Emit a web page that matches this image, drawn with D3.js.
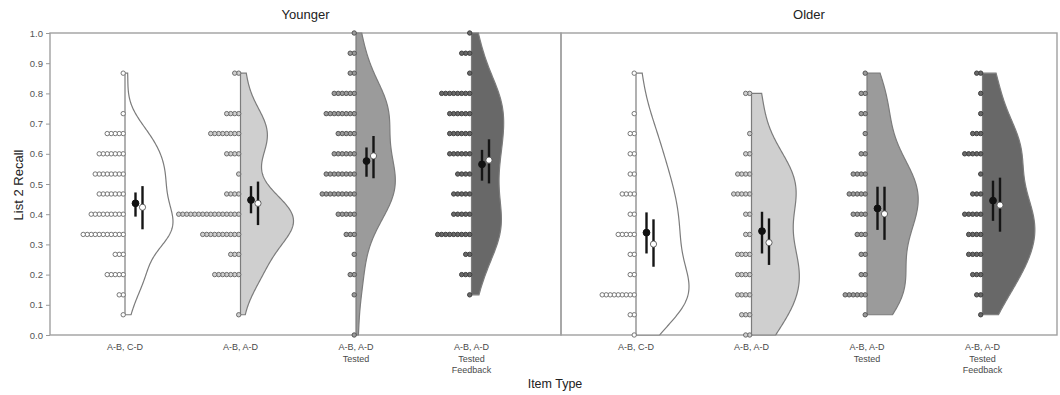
<!DOCTYPE html>
<html>
<head>
<meta charset="utf-8">
<script src="https://cdn.jsdelivr.net/npm/d3@7"></script>
<style>
  body { margin: 0; background: #fff; }
  text { font-family: "Liberation Sans", Arial, sans-serif; }
</style>
</head>
<body>
<div id="chart"></div>
<script>
// recall levels (proportion of 15 items)
const levels = [0, 0.067, 0.133, 0.2, 0.267, 0.333, 0.4, 0.467, 0.533, 0.6, 0.667, 0.733, 0.8, 0.867, 0.933, 1.0];

const itemTypes = ['A-B, C-D', 'A-B, A-D', 'A-B, A-D\nTested', 'A-B, A-D\nTested\nFeedback'];
const yTicks = [0, 0.1, 0.2, 0.3, 0.4, 0.5, 0.6, 0.7, 0.8, 0.9, 1.0];

// number of participants at each level, one array per item type
const youngerCounts = [
  [0, 1, 2, 5, 3, 11, 9, 7, 8, 7, 5, 1, 0, 1, 0, 0],
  [0, 1, 0, 7, 3, 10, 16, 4, 1, 4, 8, 4, 0, 2, 0, 0],
  [1, 0, 1, 2, 1, 3, 5, 9, 8, 6, 5, 8, 6, 2, 2, 1],
  [0, 0, 1, 3, 2, 9, 5, 5, 4, 6, 6, 6, 8, 1, 3, 1]
];
const olderCounts = [
  [1, 2, 9, 2, 2, 5, 2, 4, 2, 2, 2, 1, 0, 1, 0, 0],
  [2, 3, 4, 4, 4, 2, 2, 5, 4, 2, 1, 0, 2, 0, 0, 0],
  [0, 1, 6, 2, 2, 3, 4, 5, 4, 2, 1, 2, 2, 1, 0, 0],
  [0, 1, 2, 3, 4, 4, 5, 3, 1, 5, 3, 1, 1, 2, 0, 0]
];

// black points (observed means) with intervals
const youngerMean   = [0.436, 0.447, 0.576, 0.565];
const youngerMeanLo = [0.392, 0.403, 0.524, 0.511];
const youngerMeanHi = [0.472, 0.493, 0.621, 0.613];
const olderMean     = [0.339, 0.344, 0.419, 0.445];
const olderMeanLo   = [0.270, 0.270, 0.348, 0.378];
const olderMeanHi   = [0.406, 0.408, 0.491, 0.511];

// white points (model estimates) with intervals
const youngerEst   = [0.423, 0.436, 0.593, 0.579];
const youngerEstLo = [0.350, 0.364, 0.519, 0.502];
const youngerEstHi = [0.493, 0.508, 0.659, 0.648];
const olderEst     = [0.301, 0.306, 0.401, 0.430];
const olderEstLo   = [0.226, 0.232, 0.315, 0.342];
const olderEstHi   = [0.383, 0.386, 0.491, 0.521];

const fills = ['#ffffff', '#cfcfcf', '#9b9b9b', '#686868'];
const dotStrokes = ['#767676', '#6c6c6c', '#555555', '#404040'];

const width = 1060, height = 395;
const plotTop = 33, plotBottom = 335;

const svg = d3.select('#chart').append('svg')
  .attr('width', width)
  .attr('height', height);

const y = d3.scaleLinear().domain([0, 1]).range([plotBottom, plotTop]);

function expand(counts) {
  const vals = [];
  counts.forEach((c, i) => { for (let k = 0; k < c; k++) vals.push(levels[i]); });
  return vals;
}

// gaussian kde, bandwidth like R's bw.nrd0, trimmed to data range
function kde(vals) {
  const sorted = vals.slice().sort(d3.ascending);
  const sd = d3.deviation(sorted);
  const iqr = d3.quantileSorted(sorted, 0.75) - d3.quantileSorted(sorted, 0.25);
  const bw = 0.9 * Math.min(sd, iqr / 1.34) * Math.pow(sorted.length, -0.2);
  const lo = sorted[0], hi = sorted[sorted.length - 1];
  const pts = d3.range(256).map(i => lo + (hi - lo) * i / 255);
  return pts.map(v => {
    const d = d3.mean(sorted, s => Math.exp(-0.5 * ((v - s) / bw) ** 2)) / (bw * Math.sqrt(2 * Math.PI));
    return [v, d];
  });
}

function drawPanel(x0, x1, title, counts, mean, meanLo, meanHi, est, estLo, estHi) {
  const g = svg.append('g');
  const x = d3.scalePoint().domain(itemTypes).range([x0 + 75, x0 + 75 + 3 * 115.5]);

  g.append('rect')
    .attr('x', x0).attr('y', plotTop)
    .attr('width', x1 - x0).attr('height', plotBottom - plotTop)
    .attr('fill', 'none')
    .attr('stroke', '#a0a0a0')
    .attr('stroke-width', 1.4);

  g.append('text')
    .attr('x', (x0 + x1) / 2)
    .attr('y', 16)
    .attr('text-anchor', 'middle')
    .attr('dominant-baseline', 'middle')
    .style('font-size', '13px')
    .attr('fill', '#222')
    .text(title);

  const dens = counts.map(c => kde(expand(c)));
  const maxD = d3.max(dens, ds => d3.max(ds, d => d[1]));
  const w = d3.scaleLinear().domain([0, maxD]).range([0, 53]);

  itemTypes.forEach((t, i) => {
    const cx = x(t);
    const ds = dens[i];
    const poly = [[cx, y(ds[0][0])]]
      .concat(ds.map(d => [cx + w(d[1]), y(d[0])]))
      .concat([[cx, y(ds[ds.length - 1][0])]]);

    g.append('path')
      .attr('d', d3.line()(poly) + 'Z')
      .attr('fill', fills[i])
      .attr('stroke', '#7c7c7c')
      .attr('stroke-width', 1.2);

    // dot stacks growing leftwards
    const dots = [];
    counts[i].forEach((c, li) => {
      for (let k = 0; k < c; k++) dots.push({ v: levels[li], k });
    });
    g.selectAll(null)
      .data(dots)
      .enter()
      .append('circle')
      .attr('cx', d => cx - 1.8 - d.k * 4)
      .attr('cy', d => y(d.v))
      .attr('r', 2.2)
      .attr('fill', fills[i])
      .attr('stroke', dotStrokes[i])
      .attr('stroke-width', 1);

    // x tick label
    const lbl = g.append('text')
      .attr('x', cx)
      .attr('y', 350)
      .attr('text-anchor', 'middle')
      .style('font-size', '9px')
      .attr('fill', '#4a4a4a');
    t.split('\n').forEach((line, li) => {
      lbl.append('tspan').attr('x', cx).attr('dy', li === 0 ? 0 : 11.5).text(line);
    });

    // intervals and points
    const bx = cx + 10.5, wx = cx + 17.5;
    g.append('line')
      .attr('x1', bx).attr('x2', bx)
      .attr('y1', y(meanLo[i])).attr('y2', y(meanHi[i]))
      .attr('stroke', '#151515').attr('stroke-width', 2.4);
    g.append('line')
      .attr('x1', wx).attr('x2', wx)
      .attr('y1', y(estLo[i])).attr('y2', y(estHi[i]))
      .attr('stroke', '#151515').attr('stroke-width', 2.4);
    g.append('circle')
      .attr('cx', bx).attr('cy', y(mean[i])).attr('r', 3.4)
      .attr('fill', '#111').attr('stroke', '#111');
    g.append('circle')
      .attr('cx', wx).attr('cy', y(est[i])).attr('r', 3.1)
      .attr('fill', '#fff').attr('stroke', '#444').attr('stroke-width', 0.8);
  });
}

drawPanel(50, 561, 'Younger', youngerCounts, youngerMean, youngerMeanLo, youngerMeanHi, youngerEst, youngerEstLo, youngerEstHi);
drawPanel(561, 1057, 'Older', olderCounts, olderMean, olderMeanLo, olderMeanHi, olderEst, olderEstLo, olderEstHi);

// y axis
const yAxis = d3.axisLeft(y).tickValues(yTicks).tickFormat(d3.format('.1f')).tickSize(4).tickSizeOuter(0);
const ya = svg.append('g')
  .attr('transform', 'translate(50,0)')
  .call(yAxis);
ya.select('.domain').remove();
ya.selectAll('line').attr('stroke', '#999');
ya.selectAll('text')
  .style('font-size', '9.5px')
  .style('font-family', '"Liberation Sans", Arial, sans-serif')
  .attr('fill', '#555');

svg.append('text')
  .attr('transform', 'translate(20,185) rotate(-90)')
  .attr('text-anchor', 'middle')
  .attr('dominant-baseline', 'middle')
  .style('font-size', '13px')
  .attr('fill', '#222')
  .text('List 2 Recall');

svg.append('text')
  .attr('x', 555)
  .attr('y', 385)
  .attr('text-anchor', 'middle')
  .attr('dominant-baseline', 'middle')
  .style('font-size', '12.5px')
  .attr('fill', '#222')
  .text('Item Type');
</script>
</body>
</html>
